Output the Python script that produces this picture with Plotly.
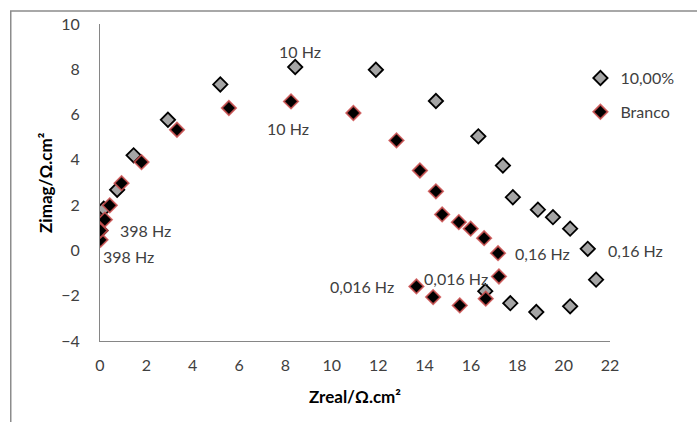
import plotly.graph_objects as go

# Nyquist data (Zreal, Zimag in ohm.cm2)
zreal_10 = [0.02, 0.00, 0.16, 0.74, 1.45, 2.93, 5.19, 8.42, 11.90, 14.49, 16.32,
            17.38, 17.81, 18.89, 19.54, 20.28, 21.04, 21.40, 20.28, 18.82, 17.70, 16.62]
zimag_10 = [0.88, 1.25, 1.84, 2.68, 4.20, 5.77, 7.33, 8.10, 7.98, 6.60, 5.04,
            3.75, 2.35, 1.80, 1.47, 0.96, 0.07, -1.29, -2.47, -2.72, -2.33, -1.80]

zreal_branco = [0.02, 0.02, 0.21, 0.42, 0.93, 1.79, 3.32, 5.56, 8.24, 10.93, 12.79, 13.80,
                14.49, 14.76, 15.48, 15.99, 16.57, 17.17, 17.21, 16.64, 15.52, 14.37, 13.65]
zimag_branco = [0.47, 0.88, 1.36, 1.99, 2.97, 3.90, 5.33, 6.29, 6.58, 6.07, 4.86, 3.53,
                2.61, 1.59, 1.25, 0.96, 0.54, -0.12, -1.15, -2.13, -2.43, -2.06, -1.59]

series_names = ["10,00%", "Branco"]

# Frequency labels: (point index, text, x offset px, y offset px downward)
freq_labels_10 = [(0, "398 Hz", 45, 0), (7, "10 Hz", 5, -16),
                  (16, "0,16 Hz", 48, 2), (21, "0,016 Hz", -29, -13)]
freq_labels_branco = [(0, "398 Hz", 28, 17), (8, "10 Hz", -3, 27),
                      (17, "0,16 Hz", 44, 0), (22, "0,016 Hz", -54, 0)]

x_ticks = list(range(0, 23, 2))
y_ticks = list(range(-4, 11, 2))

FONT = "Lato"
TEXT_COLOR = "#404040"
AXIS_COLOR = "#868686"

fig = go.Figure()
fig.add_trace(go.Scatter(
    x=zreal_10, y=zimag_10, mode="markers", name=series_names[0],
    legendgroup="a",
    marker=dict(symbol="diamond", size=11, color="#a5a5a5",
                line=dict(color="#000000", width=1.8)),
))
fig.add_trace(go.Scatter(
    x=zreal_branco, y=zimag_branco, mode="markers", name=series_names[1],
    legendgroup="b",
    marker=dict(symbol="diamond", size=11, color="#000000",
                line=dict(color="rgba(205,80,80,0.85)", width=1.8)),
))

annotations = []
for labels, xs, ys in ((freq_labels_10, zreal_10, zimag_10),
                       (freq_labels_branco, zreal_branco, zimag_branco)):
    for idx, txt, dx, dy in labels:
        annotations.append(dict(
            x=xs[idx], y=ys[idx], xref="x", yref="y", text=txt,
            showarrow=False, xanchor="center", yanchor="middle",
            xshift=dx, yshift=-dy,
            font=dict(family=FONT, size=16, color=TEXT_COLOR),
        ))

# Axis titles
annotations.append(dict(
    text="<b>Zreal/Ω.cm²</b>", xref="paper", yref="paper", x=0.5, y=-0.175,
    xanchor="center", yanchor="middle", showarrow=False,
    font=dict(family=FONT, size=17, color="#000000"),
))
annotations.append(dict(
    text="<b>Zimag/Ω.cm²</b>", xref="paper", yref="paper", x=-0.107, y=0.5,
    xanchor="center", yanchor="middle", showarrow=False, textangle=-90,
    font=dict(family=FONT, size=17, color="#000000"),
))

fig.update_layout(
    width=697, height=422,
    margin=dict(l=99.5, r=86.5, t=24, b=81),
    paper_bgcolor="#ffffff", plot_bgcolor="#ffffff",
    font=dict(family=FONT, size=16, color=TEXT_COLOR),
    annotations=annotations,
    showlegend=True,
    legend=dict(
        x=0.942, y=0.883, xanchor="left", yanchor="top",
        bgcolor="rgba(0,0,0,0)", borderwidth=0,
        traceorder="grouped", tracegroupgap=10, itemwidth=30,
        font=dict(family=FONT, size=16, color=TEXT_COLOR),
    ),
    shapes=[dict(
        type="rect", xref="paper", yref="paper",
        x0=-0.175, x1=2.0, y0=-1.0, y1=1.041,
        line=dict(color="#8c8c8c", width=1.5), fillcolor="rgba(0,0,0,0)",
        layer="below",
    )],
)

fig.update_xaxes(
    range=[0, 22], tickvals=x_ticks, ticks="", showgrid=False, zeroline=False,
    showline=True, linecolor=AXIS_COLOR, linewidth=1,
    tickfont=dict(family=FONT, size=16, color=TEXT_COLOR),
    ticklabelstandoff=10,
)
fig.update_yaxes(
    range=[-4, 10], tickvals=y_ticks, ticks="", showgrid=False, zeroline=False,
    showline=True, linecolor=AXIS_COLOR, linewidth=1,
    tickfont=dict(family=FONT, size=16, color=TEXT_COLOR),
    ticklabelstandoff=16,
)

fig.write_html("out.html")
